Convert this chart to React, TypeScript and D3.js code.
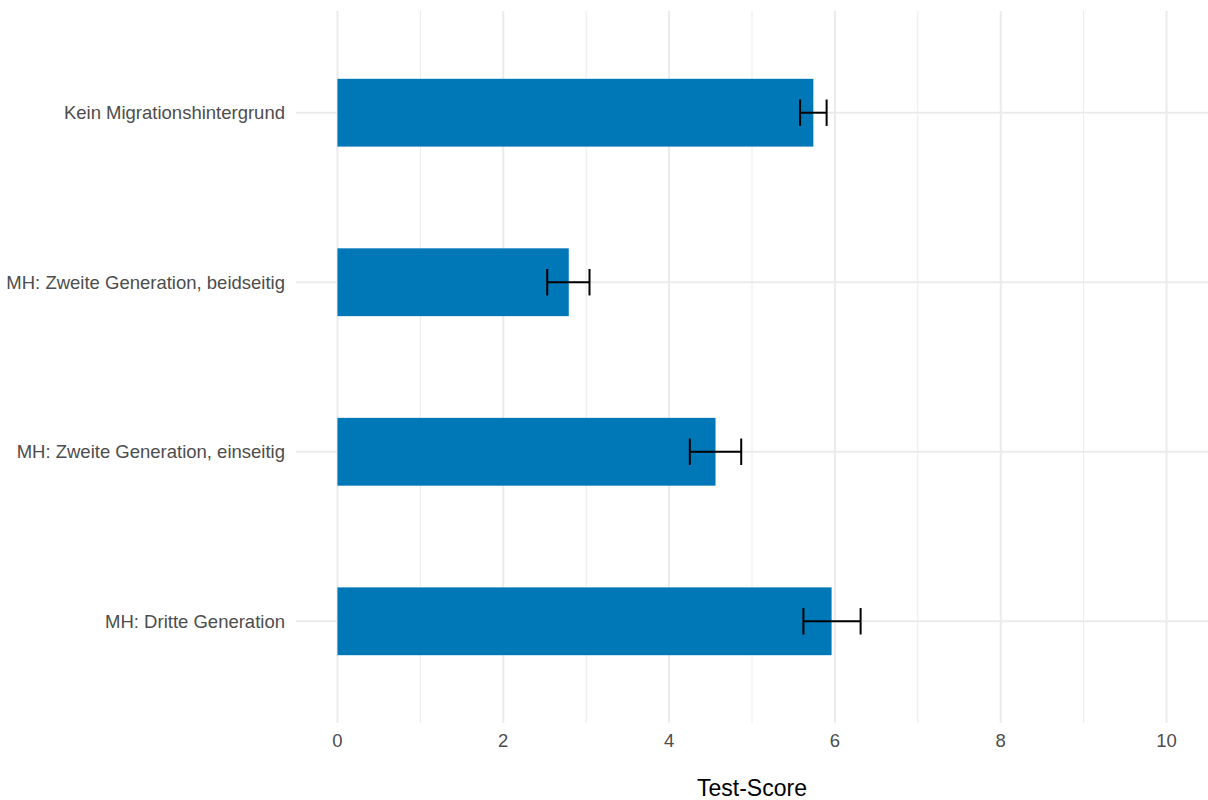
import React from "react";
import * as d3 from "d3";

const categories = [
  "Kein Migrationshintergrund",
  "MH: Zweite Generation, beidseitig",
  "MH: Zweite Generation, einseitig",
  "MH: Dritte Generation",
];
const means = [5.74, 2.79, 4.56, 5.96];
const lowers = [5.58, 2.53, 4.25, 5.62];
const uppers = [5.9, 3.04, 4.87, 6.31];
const xTicks = [0, 2, 4, 6, 8, 10];
const xMinorTicks = [1, 3, 5, 7, 9];
const xTitle = "Test-Score";

const W = 1208;
const H = 800;
const panel = { left: 296, right: 1208, top: 11, bottom: 723 };

export default function App() {
  const x = d3
    .scaleLinear()
    .domain([-0.5, 10.5])
    .range([panel.left, panel.right]);
  const y = d3
    .scalePoint<string>()
    .domain(categories)
    .range([panel.top, panel.bottom])
    .padding(0.6);
  const step = y.step();
  const barH = step * 0.4;
  const capH = step * 0.078;
  const font = "'Liberation Sans', Arial, sans-serif";
  const data = categories.map((c, i) => ({
    c,
    m: means[i],
    lo: lowers[i],
    hi: uppers[i],
  }));

  return (
    <svg
      width={W}
      height={H}
      style={{ position: "absolute", left: 0, top: 0, background: "#fff" }}
    >
      {xMinorTicks.map((t) => (
        <line
          key={"mn" + t}
          x1={x(t)}
          x2={x(t)}
          y1={panel.top}
          y2={panel.bottom}
          stroke="#EBEBEB"
          strokeWidth={1}
        />
      ))}
      {xTicks.map((t) => (
        <line
          key={"mj" + t}
          x1={x(t)}
          x2={x(t)}
          y1={panel.top}
          y2={panel.bottom}
          stroke="#EBEBEB"
          strokeWidth={2}
        />
      ))}
      {categories.map((c) => (
        <line
          key={"hg" + c}
          x1={panel.left}
          x2={panel.right}
          y1={y(c)}
          y2={y(c)}
          stroke="#EBEBEB"
          strokeWidth={2}
        />
      ))}
      {data.map((d) => (
        <rect
          key={"b" + d.c}
          x={x(0)}
          y={(y(d.c) as number) - barH / 2}
          width={x(d.m) - x(0)}
          height={barH}
          fill="#0077B7"
        />
      ))}
      {data.map((d) => {
        const cy = y(d.c) as number;
        return (
          <g key={"e" + d.c} stroke="#000" strokeWidth={2}>
            <line x1={x(d.lo)} x2={x(d.hi)} y1={cy} y2={cy} />
            <line x1={x(d.lo)} x2={x(d.lo)} y1={cy - capH} y2={cy + capH} />
            <line x1={x(d.hi)} x2={x(d.hi)} y1={cy - capH} y2={cy + capH} />
          </g>
        );
      })}
      {categories.map((c) => (
        <text
          key={"yl" + c}
          x={285}
          y={y(c)}
          dy="0.35em"
          textAnchor="end"
          fontFamily={font}
          fontSize={18.5}
          fill="#4D4D4D"
        >
          {c}
        </text>
      ))}
      {xTicks.map((t) => (
        <text
          key={"xl" + t}
          x={x(t)}
          y={741}
          dy="0.35em"
          textAnchor="middle"
          fontFamily={font}
          fontSize={18.5}
          fill="#4D4D4D"
        >
          {t}
        </text>
      ))}
      <text
        x={(panel.left + panel.right) / 2}
        y={788}
        dy="0.35em"
        textAnchor="middle"
        fontFamily={font}
        fontSize={23}
        fill="#000"
      >
        {xTitle}
      </text>
    </svg>
  );
}
